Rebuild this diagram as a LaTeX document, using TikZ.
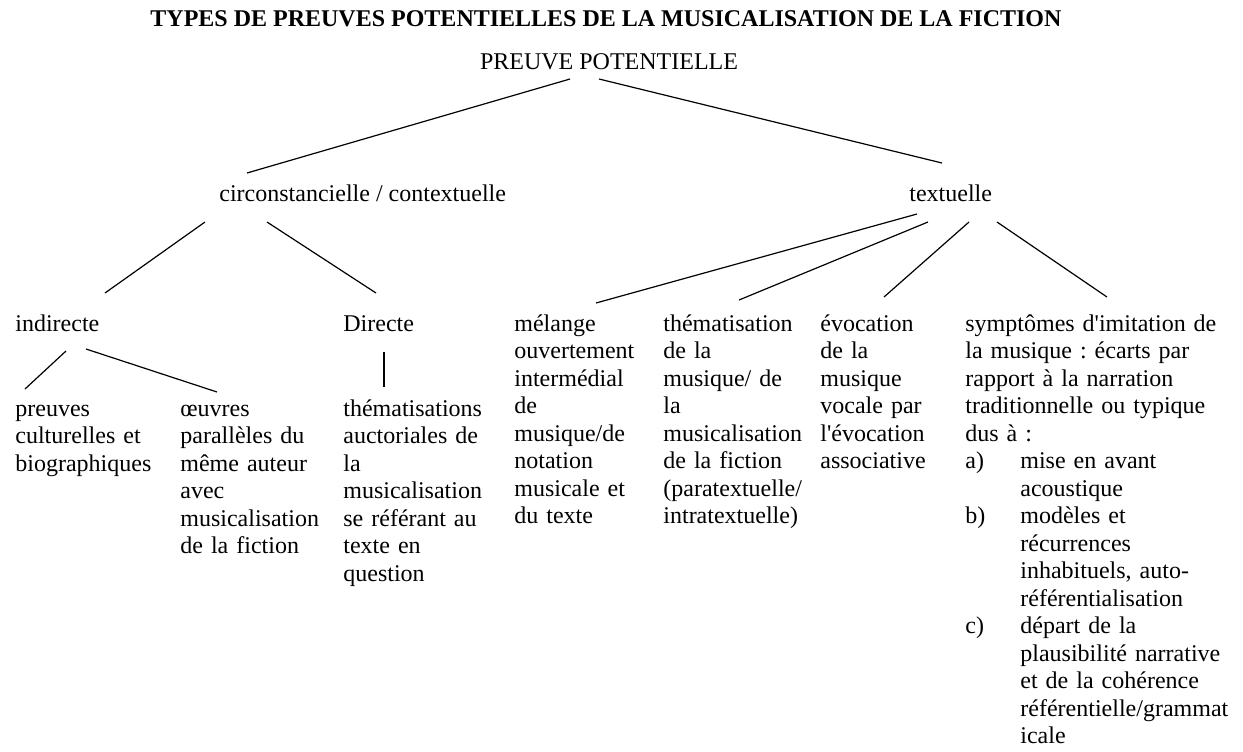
\documentclass[tikz,border=0pt]{standalone}
\usepackage{fontspec}
\setmainfont{Liberation Serif}
\usetikzlibrary{calc}
\newcommand{\ap}{\textquotesingle}
\newcommand{\itm}[1]{\makebox[27.5pt][l]{#1}}
\newcommand{\sub}{\hspace*{27.5pt}}
\frenchspacing

\begin{document}
\begin{tikzpicture}[x=0.5pt,y=-0.5pt,
	txt/.style={anchor=base west, inner sep=0pt, font=\fontsize{12}{13.75}\selectfont},
	col/.style={txt, text width=#1, align=left},
	edge/.style={line width=0.6pt}]
	\useasboundingbox (0,0) rectangle (1243,751);
	\node[txt, anchor=base, font=\fontsize{12}{13.75}\selectfont\bfseries] (title) at (606,26) {TYPES DE PREUVES POTENTIELLES DE LA MUSICALISATION DE LA FICTION};
	\node[txt, anchor=base] (root) at (609,69) {PREUVE POTENTIELLE};
	\node[txt] (circ) at (219,201) {circonstancielle / contextuelle};
	\node[txt] (textu) at (909,201) {textuelle};
	%
	\node[txt] (indir) at (15,331) {indirecte};
	\node[txt] (direc) at (343,331) {Directe};
	\node[col=80pt] (melange) at (514,331) {mélange\\ ouvertement\\ intermédial\\ de\\ musique/de\\ notation\\ musicale et\\ du texte};
	\node[col=80pt] (themat) at (663,331) {thématisation\\ de la\\ musique/ de\\ la\\ musicalisation\\ de la fiction\\ (paratextuelle/\\ intratextuelle)};
	\node[col=70pt] (evoc) at (820,331) {évocation\\ de la\\ musique\\ vocale par\\ l\ap évocation\\ associative};
	\node[col=140pt] (sympt) at (965,331) {symptômes d\ap imitation de\\ la musique : écarts par\\ rapport à la narration\\ traditionnelle ou typique\\ dus à :\\
		\itm{a)}mise en avant\\ \sub acoustique\\
		\itm{b)}modèles et\\ \sub récurrences\\ \sub inhabituels, auto-\\ \sub référentialisation\\
		\itm{c)}départ de la\\ \sub plausibilité narrative\\ \sub et de la cohérence\\ \sub référentielle/grammat\\ \sub icale};
	%
	\node[col=80pt] (preuv) at (15,416) {preuves\\ culturelles et\\ biographiques};
	\node[col=80pt] (oeuvr) at (180,416) {œuvres\\ parallèles du\\ même auteur\\ avec\\ musicalisation\\ de la fiction};
	\node[col=80pt] (thauct) at (343,416) {thématisations\\ auctoriales de\\ la\\ musicalisation\\ se référant au\\ texte en\\ question};
	%
	\draw[edge] ($(root.base)+(-39,10)$) -- ($(circ.base west)+(28,-28)$);
	\draw[edge] ($(root.base)+(-10,10)$) -- ($(textu.base west)+(33,-38)$);
	\draw[edge] ($(circ.base west)+(-14,21)$) -- ($(indir.base west)+(90,-38)$);
	\draw[edge] ($(circ.base west)+(48,21)$) -- ($(direc.base west)+(33,-38)$);
	\draw[edge] ($(textu.base west)+(8,13)$) -- ($(melange.base west)+(82,-28)$);
	\draw[edge] ($(textu.base west)+(19,21)$) -- ($(themat.base west)+(76,-31)$);
	\draw[edge] ($(textu.base west)+(60,21)$) -- ($(evoc.base west)+(64,-34)$);
	\draw[edge] ($(textu.base west)+(88,21)$) -- ($(sympt.base west)+(142,-34)$);
	%
	\draw[edge] ($(indir.base west)+(51,20)$) -- ($(preuv.base west)+(10,-27)$);
	\draw[edge] ($(indir.base west)+(71,18)$) -- ($(oeuvr.base west)+(37,-24)$);
	\draw[edge] ($(direc.base west)+(41,21)$) -- ($(thauct.base west)+(41,-29)$);
\end{tikzpicture}
\end{document}
